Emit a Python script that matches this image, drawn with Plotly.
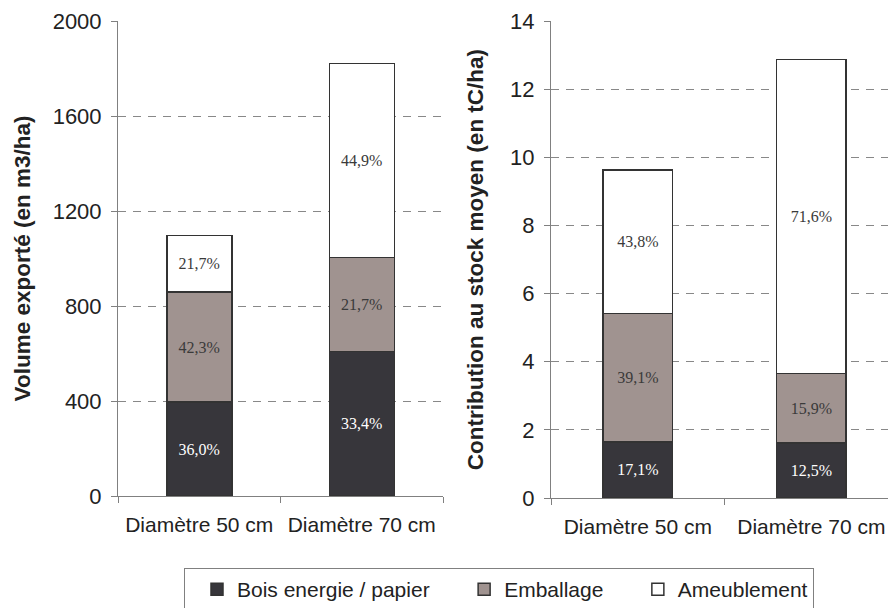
import plotly.graph_objects as go

categories = ["Diamètre 50 cm", "Diamètre 70 cm"]
series_names = ["Bois energie / papier", "Emballage", "Ameublement"]

# Volume exporté (m3/ha)
volume_bois = [395, 609]
volume_emballage = [464, 395]
volume_ameublement = [238, 818]
volume_bois_pct = ["36,0%", "33,4%"]
volume_emballage_pct = ["42,3%", "21,7%"]
volume_ameublement_pct = ["21,7%", "44,9%"]

# Contribution au stock moyen (tC/ha)
stock_bois = [1.65, 1.61]
stock_emballage = [3.77, 2.05]
stock_ameublement = [4.21, 9.21]
stock_bois_pct = ["17,1%", "12,5%"]
stock_emballage_pct = ["39,1%", "15,9%"]
stock_ameublement_pct = ["43,8%", "71,6%"]

left_ticks = [0, 400, 800, 1200, 1600, 2000]
right_ticks = [0, 2, 4, 6, 8, 10, 12, 14]

colors = ["#37363b", "#a09390", "#ffffff"]
text_colors = ["#ffffff", "#3a3a3a", "#3a3a3a"]
legend_pad = ["\u00a0" * 3, "\u00a0" * 3, ""]

SANS = "Liberation Sans, Arial, sans-serif"
SERIF = "Liberation Serif, Times New Roman, serif"

fig = go.Figure()

left_sets = [(volume_bois, volume_bois_pct), (volume_emballage, volume_emballage_pct),
             (volume_ameublement, volume_ameublement_pct)]
right_sets = [(stock_bois, stock_bois_pct), (stock_emballage, stock_emballage_pct),
              (stock_ameublement, stock_ameublement_pct)]

for i, (vals, txt) in enumerate(left_sets):
    fig.add_trace(go.Bar(
        x=categories, y=vals, text=txt, name=series_names[i] + legend_pad[i],
        legendgroup=series_names[i],
        marker=dict(color=colors[i], line=dict(color="#333333", width=1.5)),
        textposition="inside", insidetextanchor="middle", textangle=0, constraintext="none",
        textfont=dict(family=SERIF, size=16, color=text_colors[i]),
        xaxis="x", yaxis="y", showlegend=True,
    ))
for i, (vals, txt) in enumerate(right_sets):
    fig.add_trace(go.Bar(
        x=categories, y=vals, text=txt, name=series_names[i], legendgroup=series_names[i],
        marker=dict(color=colors[i], line=dict(color="#333333", width=1.5)),
        textposition="inside", insidetextanchor="middle", textangle=0, constraintext="none",
        textfont=dict(family=SERIF, size=16, color=text_colors[i]),
        xaxis="x2", yaxis="y2", showlegend=False,
    ))

# page body has an 8px margin: figure is drawn 8px right/down of the window corner
W, H = 888, 600
L, R, T, B = 110, 0, 13, 110
pw = W - L - R
ph = H - T - B

grid = dict(showgrid=True, gridcolor="#888888", gridwidth=1.2, griddash="8px,7px")
xcommon = dict(type="category", showline=True, linecolor="#808080", linewidth=1,
               ticks="outside", tickson="boundaries", ticklen=6, tickcolor="#808080",
               ticklabelstandoff=10,
               tickfont=dict(family=SANS, size=21, color="#222222"), showgrid=False,
               zeroline=False, fixedrange=True)
ycommon = dict(showline=True, linecolor="#808080", linewidth=1, ticks="outside",
               ticklen=6, tickcolor="#808080", zeroline=False, ticklabelstandoff=5,
               tickfont=dict(family=SANS, size=22, color="#222222"), **grid)

fig.update_layout(
    width=W, height=H,
    margin=dict(l=L, r=R, t=T, b=B, autoexpand=False),
    paper_bgcolor="white", plot_bgcolor="white",
    barmode="stack", bargap=0.6,
    xaxis=dict(domain=[0, 325 / pw], range=[-0.5, 1.5], anchor="y", **xcommon),
    yaxis=dict(domain=[2 / ph, 1], range=[0, 2000], tickvals=left_ticks, anchor="x",
               title=dict(text="<b>Volume exporté (en m3/ha)</b>", standoff=15,
                          font=dict(family=SANS, size=22.5, color="#222222")),
               **ycommon),
    xaxis2=dict(domain=[433 / pw, 1], range=[-0.5, -0.5 + 345 / 173.6], anchor="y2", **xcommon),
    yaxis2=dict(domain=[0, 1], range=[0, 14], tickvals=right_ticks, anchor="x2",
                title=dict(text="<b>Contribution au stock moyen (en tC/ha)</b>", standoff=20,
                           font=dict(family=SANS, size=22.5, color="#222222")),
                **ycommon),
    legend=dict(orientation="h", x=(176 - L) / pw, xanchor="left",
                y=-(560 - (T + ph)) / ph, yanchor="top", indentation=12,
                bordercolor="#808080", borderwidth=1, bgcolor="white",
                font=dict(family=SANS, size=21, color="#222222"),
                traceorder="normal"),
    showlegend=True,
)

fig.write_html("out.html")
